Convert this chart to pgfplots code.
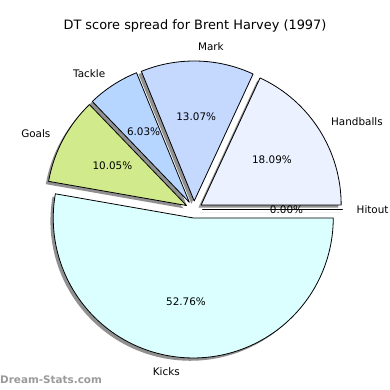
\documentclass[border=0pt]{standalone}
\usepackage{pgfplots}
\pgfplotsset{compat=1.18}
\usepackage{fontspec}
\setmainfont{DejaVu Sans}
\definecolor{cHand}{HTML}{EBF1FF}
\definecolor{cMark}{HTML}{C5D9FF}
\definecolor{cTack}{HTML}{B6D6FF}
\definecolor{cGoal}{HTML}{D1EA8B}
\definecolor{cKick}{HTML}{DBFFFF}
\definecolor{cShadow}{HTML}{909090}
\definecolor{cWater}{HTML}{9A9A9A}
\tikzset{lab/.style={font=\fontsize{10.4}{12}\selectfont, inner sep=0pt}}
% pie geometry (axis units = pt)
\def\cx{194}\def\cy{180.5}\def\R{140}\def\ex{8.5}
% #1 cumulative start (percent), #2 share (percent)
\newcommand{\shadowslice}[2]{%
  \pgfmathsetmacro{\a}{3.6*#1}\pgfmathsetmacro{\b}{3.6*(#1+#2)}%
  \pgfmathsetmacro{\m}{(\a+\b)/2}%
  \pgfmathsetmacro{\ox}{\cx+\ex*cos(\m)-2.8}\pgfmathsetmacro{\oy}{\cy+\ex*sin(\m)-2.8}%
  \edef\tmp{\noexpand\fill[cShadow, overlay] (axis cs:\ox,\oy) -- ++(\a:\R pt) arc[start angle=\a, end angle=\b, radius=\R pt] -- cycle;}\tmp}
\newcommand{\slice}[4]{%
  \pgfmathsetmacro{\a}{3.6*#1}\pgfmathsetmacro{\b}{3.6*(#1+#2)}%
  \pgfmathsetmacro{\m}{(\a+\b)/2}%
  \pgfmathsetmacro{\ox}{\cx+\ex*cos(\m)}\pgfmathsetmacro{\oy}{\cy+\ex*sin(\m)}%
  \pgfmathsetmacro{\px}{\ox+0.6*\R*cos(\m)}\pgfmathsetmacro{\py}{\oy+0.6*\R*sin(\m)}%
  \pgfmathsetmacro{\lx}{\ox+1.1*\R*cos(\m)}\pgfmathsetmacro{\ly}{\oy+1.1*\R*sin(\m)}%
  \pgfmathsetmacro{\side}{cos(\m)>0 ? 1 : 0}%
  \ifdim\side pt>0.5pt \def\anc{west}\else\def\anc{east}\fi
  \edef\tmp{\noexpand\filldraw[fill=#3, draw=black, line width=0.8pt, line join=round, overlay] (axis cs:\ox,\oy) -- ++(\a:\R pt) arc[start angle=\a, end angle=\b, radius=\R pt] -- cycle;
    \noexpand\node[lab] at (axis cs:\px,\py) {#2\noexpand\%};
    \noexpand\node[lab, anchor=\anc] at (axis cs:\lx,\ly) {#4};}\tmp}
\begin{document}
\begin{tikzpicture}
\begin{axis}[
  scale only axis, width=390pt, height=390pt,
  xmin=0, xmax=390, ymin=0, ymax=390,
  hide axis, clip=false]
% shadows (drawn beneath all wedges)
\shadowslice{0}{18.09}
\shadowslice{18.09}{13.07}
\shadowslice{31.16}{6.03}
\shadowslice{37.19}{10.05}
\shadowslice{47.24}{52.76}
\shadowslice{100}{0}
% wedges: start, share, colour, label
\slice{0}{18.09}{cHand}{Handballs}
\slice{18.09}{13.07}{cMark}{Mark}
\slice{31.16}{6.03}{cTack}{Tackle}
\slice{37.19}{10.05}{cGoal}{Goals}
\slice{47.24}{52.76}{cKick}{Kicks}
\slice{100}{0.00}{white}{Hitout}
\node[font=\fontsize{12.9}{15}\selectfont, inner sep=0pt] at (axis cs:195,364) {DT score spread for Brent Harvey (1997)};
\node[font=\fontsize{10.4}{12}\selectfont\bfseries, text=cWater, anchor=west, inner sep=0pt] at (axis cs:0,10) {Dream-Stats.com};
\end{axis}
\pgfresetboundingbox
\useasboundingbox (current axis.south west) rectangle (current axis.north east);
\end{tikzpicture}
\end{document}
